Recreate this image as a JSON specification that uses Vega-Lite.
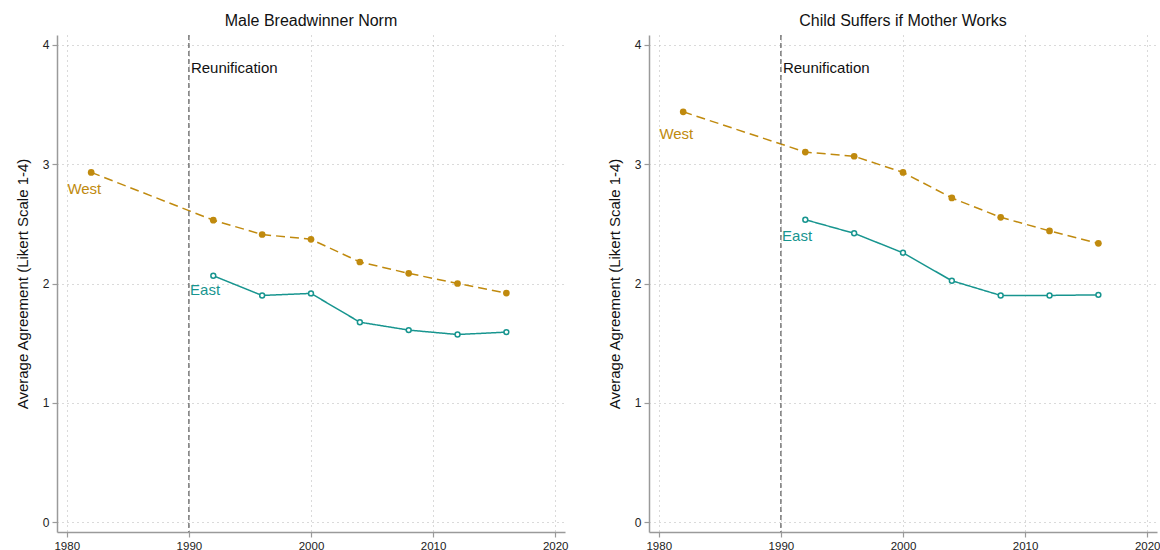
{
  "$schema": "https://vega.github.io/schema/vega-lite/v6.json",
  "background": "white",
  "padding": {"left": 15, "top": 13, "right": 3, "bottom": 5},
  "spacing": 84,
  "bounds": "flush",
  "datasets": {
    "series": [
      {"panel": "A", "region": "West", "year": 1982, "value": 2.93},
      {"panel": "A", "region": "West", "year": 1992, "value": 2.53},
      {"panel": "A", "region": "West", "year": 1996, "value": 2.41},
      {"panel": "A", "region": "West", "year": 2000, "value": 2.37},
      {"panel": "A", "region": "West", "year": 2004, "value": 2.18},
      {"panel": "A", "region": "West", "year": 2008, "value": 2.085},
      {"panel": "A", "region": "West", "year": 2012, "value": 2.0},
      {"panel": "A", "region": "West", "year": 2016, "value": 1.92},
      {"panel": "A", "region": "East", "year": 1992, "value": 2.065},
      {"panel": "A", "region": "East", "year": 1996, "value": 1.9},
      {"panel": "A", "region": "East", "year": 2000, "value": 1.917},
      {"panel": "A", "region": "East", "year": 2004, "value": 1.676},
      {"panel": "A", "region": "East", "year": 2008, "value": 1.61},
      {"panel": "A", "region": "East", "year": 2012, "value": 1.573},
      {"panel": "A", "region": "East", "year": 2016, "value": 1.593},
      {"panel": "B", "region": "West", "year": 1982, "value": 3.437},
      {"panel": "B", "region": "West", "year": 1992, "value": 3.1},
      {"panel": "B", "region": "West", "year": 1996, "value": 3.065},
      {"panel": "B", "region": "West", "year": 2000, "value": 2.93},
      {"panel": "B", "region": "West", "year": 2004, "value": 2.716},
      {"panel": "B", "region": "West", "year": 2008, "value": 2.554},
      {"panel": "B", "region": "West", "year": 2012, "value": 2.44},
      {"panel": "B", "region": "West", "year": 2016, "value": 2.336},
      {"panel": "B", "region": "East", "year": 1992, "value": 2.534},
      {"panel": "B", "region": "East", "year": 1996, "value": 2.42},
      {"panel": "B", "region": "East", "year": 2000, "value": 2.257},
      {"panel": "B", "region": "East", "year": 2004, "value": 2.023},
      {"panel": "B", "region": "East", "year": 2008, "value": 1.9},
      {"panel": "B", "region": "East", "year": 2012, "value": 1.9},
      {"panel": "B", "region": "East", "year": 2016, "value": 1.905}
    ],
    "labels": [
      {"panel": "A", "region": "West", "label": "West", "year": 1980.05, "value": 2.79},
      {"panel": "A", "region": "East", "label": "East", "year": 1990.1, "value": 1.945},
      {"panel": "B", "region": "West", "label": "West", "year": 1980.05, "value": 3.25},
      {"panel": "B", "region": "East", "label": "East", "year": 1990.1, "value": 2.4}
    ],
    "events": [
      {"label": "Reunification", "year": 1990, "value": 3.8}
    ]
  },
  "config": {
    "font": "Liberation Sans",
    "view": {"stroke": null},
    "axis": {
      "domainColor": "#9a9a9a",
      "domainWidth": 1.5,
      "tickColor": "#9a9a9a",
      "tickSize": 5,
      "tickWidth": 1.2,
      "labelFont": "Liberation Sans",
      "labelFontSize": 12,
      "labelColor": "#222222",
      "labelPadding": 3,
      "gridColor": "#b4b4b4",
      "gridDash": [1, 4],
      "gridWidth": 1,
      "titleFont": "Liberation Sans",
      "titleFontSize": 15,
      "titleFontWeight": "normal",
      "titleColor": "#111111"
    },
    "axisX": {"labelFontSize": 11.5},
    "axisY": {"titlePadding": 12},
    "title": {"font": "Liberation Sans", "fontSize": 16, "fontWeight": "normal", "color": "#111111", "offset": 5, "anchor": "middle"}
  },
  "hconcat": [
    {
      "title": "Male Breadwinner Norm",
      "width": 508,
      "height": 497,
      "layer": [
        {
          "data": {"name": "series"},
          "transform": [{"filter": "datum.panel === 'A'"}],
          "mark": {"type": "line", "strokeWidth": 1.5},
          "encoding": {
            "x": {"field": "year", "type": "quantitative", "title": null, "scale": {"domain": [1979.2, 2020.8], "nice": false, "zero": false}, "axis": {"values": [1980, 1990, 2000, 2010, 2020], "format": "d"}},
            "y": {"field": "value", "type": "quantitative", "title": "Average Agreement (Likert Scale 1-4)", "scale": {"domain": [-0.08, 4.08], "nice": false, "zero": false}, "axis": {"values": [0, 1, 2, 3, 4], "format": "d"}},
            "color": {"field": "region", "type": "nominal", "scale": {"domain": ["West", "East"], "range": ["#C08A0E", "#17958F"]}, "legend": null},
            "strokeDash": {"field": "region", "type": "nominal", "scale": {"domain": ["West", "East"], "range": [[9, 5], [1, 0]]}, "legend": null}
          }
        },
        {
          "data": {"name": "events"},
          "mark": {"type": "rule", "color": "#666666", "strokeDash": [5, 3], "strokeWidth": 1.3},
          "encoding": {
            "x": {"field": "year", "type": "quantitative"}
          }
        },
        {
          "data": {"name": "series"},
          "transform": [{"filter": "datum.panel === 'A' && datum.region === 'West'"}],
          "mark": {"type": "point", "filled": true, "size": 45, "opacity": 1},
          "encoding": {
            "x": {"field": "year", "type": "quantitative"},
            "y": {"field": "value", "type": "quantitative"},
            "color": {"field": "region", "type": "nominal"}
          }
        },
        {
          "data": {"name": "series"},
          "transform": [{"filter": "datum.panel === 'A' && datum.region === 'East'"}],
          "mark": {"type": "point", "filled": false, "size": 24, "strokeWidth": 1.5, "fill": "white", "opacity": 1},
          "encoding": {
            "x": {"field": "year", "type": "quantitative"},
            "y": {"field": "value", "type": "quantitative"},
            "color": {"field": "region", "type": "nominal"}
          }
        },
        {
          "data": {"name": "labels"},
          "transform": [{"filter": "datum.panel === 'A'"}],
          "mark": {"type": "text", "align": "left", "baseline": "middle", "fontSize": 15},
          "encoding": {
            "x": {"field": "year", "type": "quantitative"},
            "y": {"field": "value", "type": "quantitative"},
            "text": {"field": "label"},
            "color": {"field": "region", "type": "nominal"}
          }
        },
        {
          "data": {"name": "events"},
          "mark": {"type": "text", "align": "left", "baseline": "middle", "fontSize": 15, "dx": 2, "color": "#111111"},
          "encoding": {
            "x": {"field": "year", "type": "quantitative"},
            "y": {"field": "value", "type": "quantitative"},
            "text": {"field": "label"}
          }
        }
      ]
    },
    {
      "title": "Child Suffers if Mother Works",
      "width": 508,
      "height": 497,
      "layer": [
        {
          "data": {"name": "series"},
          "transform": [{"filter": "datum.panel === 'B'"}],
          "mark": {"type": "line", "strokeWidth": 1.5},
          "encoding": {
            "x": {"field": "year", "type": "quantitative", "title": null, "scale": {"domain": [1979.2, 2020.8], "nice": false, "zero": false}, "axis": {"values": [1980, 1990, 2000, 2010, 2020], "format": "d"}},
            "y": {"field": "value", "type": "quantitative", "title": "Average Agreement (Likert Scale 1-4)", "scale": {"domain": [-0.08, 4.08], "nice": false, "zero": false}, "axis": {"values": [0, 1, 2, 3, 4], "format": "d"}},
            "color": {"field": "region", "type": "nominal", "scale": {"domain": ["West", "East"], "range": ["#C08A0E", "#17958F"]}, "legend": null},
            "strokeDash": {"field": "region", "type": "nominal", "scale": {"domain": ["West", "East"], "range": [[9, 5], [1, 0]]}, "legend": null}
          }
        },
        {
          "data": {"name": "events"},
          "mark": {"type": "rule", "color": "#666666", "strokeDash": [5, 3], "strokeWidth": 1.3},
          "encoding": {
            "x": {"field": "year", "type": "quantitative"}
          }
        },
        {
          "data": {"name": "series"},
          "transform": [{"filter": "datum.panel === 'B' && datum.region === 'West'"}],
          "mark": {"type": "point", "filled": true, "size": 45, "opacity": 1},
          "encoding": {
            "x": {"field": "year", "type": "quantitative"},
            "y": {"field": "value", "type": "quantitative"},
            "color": {"field": "region", "type": "nominal"}
          }
        },
        {
          "data": {"name": "series"},
          "transform": [{"filter": "datum.panel === 'B' && datum.region === 'East'"}],
          "mark": {"type": "point", "filled": false, "size": 24, "strokeWidth": 1.5, "fill": "white", "opacity": 1},
          "encoding": {
            "x": {"field": "year", "type": "quantitative"},
            "y": {"field": "value", "type": "quantitative"},
            "color": {"field": "region", "type": "nominal"}
          }
        },
        {
          "data": {"name": "labels"},
          "transform": [{"filter": "datum.panel === 'B'"}],
          "mark": {"type": "text", "align": "left", "baseline": "middle", "fontSize": 15},
          "encoding": {
            "x": {"field": "year", "type": "quantitative"},
            "y": {"field": "value", "type": "quantitative"},
            "text": {"field": "label"},
            "color": {"field": "region", "type": "nominal"}
          }
        },
        {
          "data": {"name": "events"},
          "mark": {"type": "text", "align": "left", "baseline": "middle", "fontSize": 15, "dx": 2, "color": "#111111"},
          "encoding": {
            "x": {"field": "year", "type": "quantitative"},
            "y": {"field": "value", "type": "quantitative"},
            "text": {"field": "label"}
          }
        }
      ]
    }
  ]
}
